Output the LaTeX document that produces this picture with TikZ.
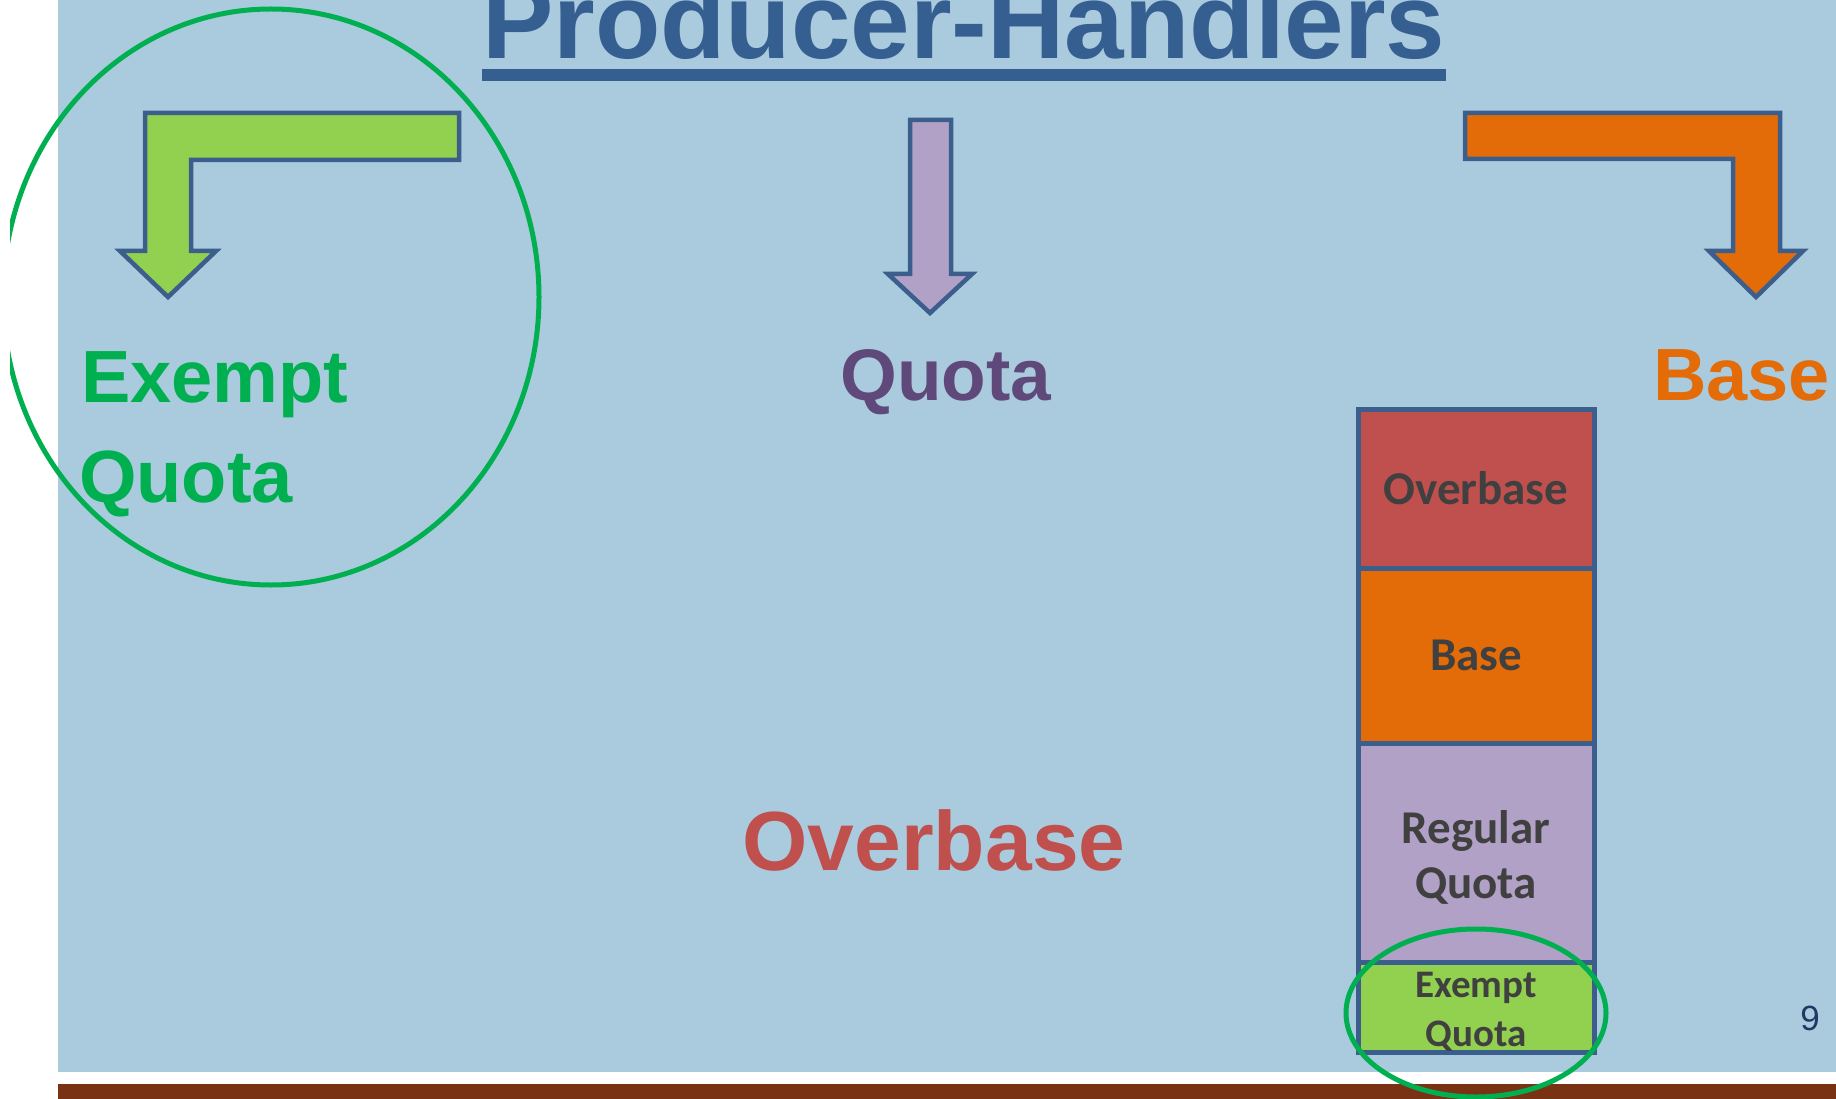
\documentclass[tikz,border=0pt]{standalone}
\usepackage{fontspec}
\setmainfont{Liberation Sans}
\newfontfamily\calibrifont{Carlito}
\definecolor{slideblue}{RGB}{170,203,222}
\definecolor{edgeblue}{RGB}{59,94,140}
\definecolor{titleblue}{RGB}{54,95,145}
\definecolor{exgreen}{RGB}{146,208,80}
\definecolor{ringgreen}{RGB}{0,176,80}
\definecolor{quotapurple}{RGB}{178,161,199}
\definecolor{darkpurple}{RGB}{95,73,122}
\definecolor{baseorange}{RGB}{227,108,9}
\definecolor{overred}{RGB}{192,80,77}
\definecolor{footbrown}{RGB}{122,50,21}
\definecolor{cellgray}{RGB}{64,64,64}
\definecolor{pagenum}{RGB}{31,56,100}
\begin{document}
\begin{tikzpicture}[x=1pt,y=-1pt,
    bendarrow/.style={draw=edgeblue,line width=4.5pt},
    stackcell/.style={draw=edgeblue,line width=5pt,minimum width=236pt,inner sep=0pt,
        text=cellgray,align=center,font=\calibrifont\bfseries\fontsize{47}{55}\selectfont},
    celltext/.style={inner sep=0pt,text=cellgray,align=center,font=\calibrifont\bfseries\fontsize{47}{55}\selectfont},
    bigword/.style={inner sep=0pt,anchor=base west,font=\bfseries\fontsize{74}{74}\selectfont},
    ring/.style={draw=ringgreen,line width=5pt}]
    \useasboundingbox (0,0) rectangle (1836,1099);
    \fill[white] (0,0) rectangle (1836,1099);
    \fill[slideblue] (58,0) rectangle (1836,1072);
    \fill[footbrown] (58,1084) rectangle (1836,1099);
    % title
    \node[anchor=base west,inner sep=0pt,text=titleblue,font=\bfseries\fontsize{107}{107}\selectfont] (title) at (482,59) {Producer-Handlers};
    \fill[titleblue] ([yshift=-10pt]title.base west) rectangle ([yshift=-22pt]title.base east);
    % the three arrows
    \draw[bendarrow,fill=exgreen] (145,113) -- (459,113) -- (459,160) -- (191,160) -- (191,251) -- (216,251) -- (168,297) -- (120,251) -- (145,251) -- cycle;
    \draw[bendarrow,fill=quotapurple] (910,120) -- (951,120) -- (951,274) -- (972,274) -- (930,313) -- (888,274) -- (910,274) -- cycle;
    \draw[bendarrow,fill=baseorange] (1465,113) -- (1780,113) -- (1780,251) -- (1803,251) -- (1756,297) -- (1709,251) -- (1733,251) -- (1733,159) -- (1465,159) -- cycle;
    % labels
    \node[bigword,text=ringgreen] (exempt) at (81,402) {Exempt};
    \node[bigword,text=ringgreen] (exquota) at (79,502) {Quota};
    \node[bigword,anchor=base,text=darkpurple,font=\bfseries\fontsize{73}{73}\selectfont] (quota) at (946,400) {Quota};
    \node[bigword,text=baseorange] (base) at (1653,400) {Base};
    \node[bigword,anchor=base,text=overred,font=\bfseries\fontsize{84}{84}\selectfont] (over) at (934,870) {Overbase};
    % stack
    \node[stackcell,fill=overred,minimum height=159pt] (ob) at (1476,488.5) {Overbase};
    \node[stackcell,fill=baseorange,minimum height=175pt] (bs) at (1476,655.5) {Base};
    \node[stackcell,fill=quotapurple,minimum height=219pt] (rq) at (1476,852.5) {};
    \node[stackcell,fill=exgreen,minimum height=90pt] (eq) at (1476,1007) {};
    \node[celltext] (rqtext) at ([yshift=-5pt]rq.center) {Regular\\Quota};
    \node[celltext,font=\calibrifont\bfseries\fontsize{39}{49}\selectfont] (eqtext) at ([yshift=-5pt]eq.center) {Exempt\\Quota};
    % rings
    \begin{scope}
        \clip (10,0) rectangle (1836,1099);
        \draw[ring] (271,297) ellipse [x radius=268pt,y radius=288pt];
    \end{scope}
    \draw[ring] (1476,1013) ellipse [x radius=130pt,y radius=84pt];
    \node[anchor=base,inner sep=0pt,text=pagenum,font=\fontsize{35}{35}\selectfont] (page) at (1810,1030) {9};
\end{tikzpicture}
\end{document}
